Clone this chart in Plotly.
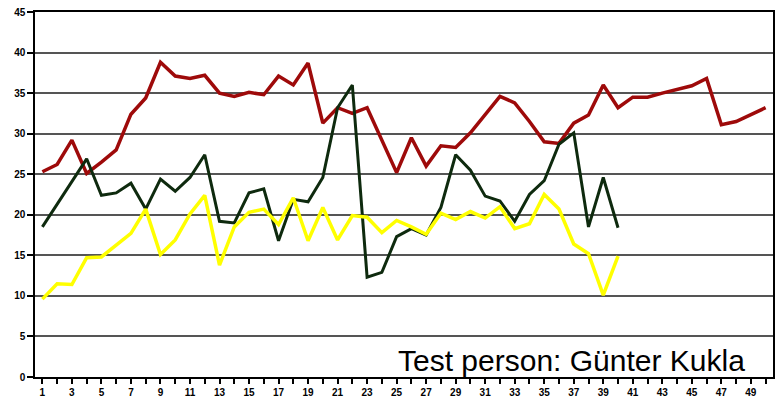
import plotly.graph_objects as go

x_red = list(range(1, 51))
red = [25.3, 26.2, 29.2, 25.1, 26.5, 28.0, 32.4, 34.4, 38.8, 37.1,
       36.8, 37.2, 35.0, 34.6, 35.1, 34.8, 37.1, 36.0, 38.7, 31.3,
       33.2, 32.5, 33.2, 29.2, 25.2, 29.5, 26.0, 28.5, 28.3, 30.1,
       32.3, 34.6, 33.8, 31.5, 29.0, 28.8, 31.3, 32.3, 36.0, 33.2,
       34.5, 34.5, 35.0, 35.5, 35.9, 36.8, 31.1, 31.5, 32.3, 33.2]

x_short = list(range(1, 41))
green = [18.5, 21.3, 24.1, 26.9, 22.4, 22.7, 23.9, 20.7, 24.4, 22.9,
         24.6, 27.4, 19.2, 19.0, 22.7, 23.2, 16.8, 21.9, 21.6, 24.6,
         33.2, 36.0, 12.3, 12.9, 17.3, 18.3, 17.5, 20.9, 27.4, 25.5,
         22.3, 21.7, 19.2, 22.5, 24.2, 28.7, 30.1, 18.5, 24.6, 18.4]
yellow = [9.6, 11.5, 11.4, 14.7, 14.8, 16.2, 17.7, 20.7, 15.1, 16.9,
          20.1, 22.4, 13.8, 18.5, 20.3, 20.7, 18.8, 22.1, 16.8, 20.9,
          16.9, 19.9, 19.7, 17.8, 19.3, 18.5, 17.6, 20.2, 19.4, 20.4,
          19.6, 21.0, 18.3, 18.9, 22.5, 20.7, 16.4, 15.2, 10.1, 14.9]

x_tickvals = list(range(1, 51))
x_ticktext = [str(v) if v % 2 == 1 else "" for v in x_tickvals]
y_tickvals = [0, 5, 10, 15, 20, 25, 30, 35, 40, 45]

fig = go.Figure()
fig.add_trace(go.Scatter(x=x_red, y=red, mode="lines",
                         line=dict(color="#9e0a0a", width=3.5)))
fig.add_trace(go.Scatter(x=x_short, y=green, mode="lines",
                         line=dict(color="#0e2a0e", width=3)))
fig.add_trace(go.Scatter(x=x_short, y=yellow, mode="lines",
                         line=dict(color="#ffff00", width=3.5)))

fig.add_annotation(text="Test person: Günter Kukla", xref="paper", yref="paper",
                   x=0.965, y=-0.005, xanchor="right", yanchor="bottom",
                   showarrow=False,
                   font=dict(family="Liberation Sans, Arial", size=30, color="#000000"))

fig.update_layout(
    width=775, height=400,
    margin=dict(l=35, r=2, t=12, b=23, autoexpand=False),
    paper_bgcolor="white", plot_bgcolor="white",
    showlegend=False,
    font=dict(family="Liberation Sans, Arial", color="#000000"),
    xaxis=dict(range=[0.5, 50.5], tickmode="array", tickvals=x_tickvals,
               ticktext=x_ticktext, ticks="outside", ticklen=5, tickwidth=1.5,
               tickcolor="#000", showgrid=False, zeroline=False, automargin=False,
               showline=True, linecolor="#000", linewidth=1.5, mirror=True,
               tickfont=dict(size=10, family="Liberation Sans, Arial", weight="bold"),
               tickangle=0),
    yaxis=dict(range=[0, 45], tickmode="array", tickvals=y_tickvals,
               ticks="outside", ticklen=6, tickwidth=1.5, tickcolor="#000",
               showgrid=True, gridcolor="#555555", gridwidth=1.5, zeroline=False,
               automargin=False,
               showline=True, linecolor="#000", linewidth=1.5, mirror=True,
               tickfont=dict(size=10, family="Liberation Sans, Arial", weight="bold")),
)

fig.write_html("out.html", config={"displayModeBar": False},
               post_script="document.body.style.margin='0';document.body.style.padding='0';")
